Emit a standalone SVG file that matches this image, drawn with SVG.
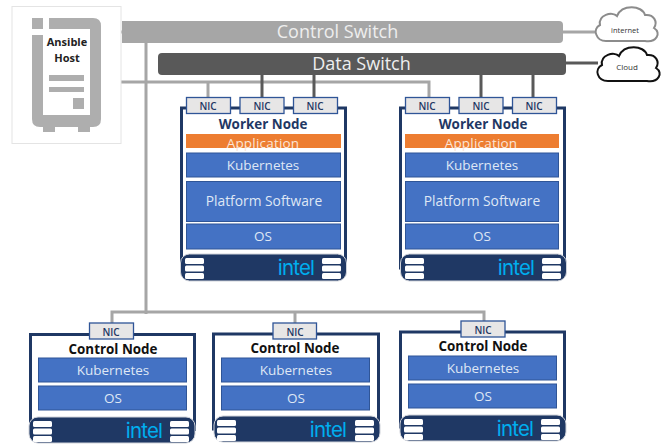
<svg xmlns="http://www.w3.org/2000/svg" width="672" height="446" viewBox="0 0 672 446">
<style>
text{font-family:"Open Sans","Noto Sans","DejaVu Sans",sans-serif;text-anchor:middle}
.frame{fill:#fff;stroke:#1f3864;stroke-width:3}
.nic{fill:#e7e6e6;stroke:#2f5597;stroke-width:1.3}
.nict{font-size:10px;fill:#1f3864;font-weight:600}
.blk{fill:#4472c4;stroke:#2f5597;stroke-width:1}
.blkt{font-size:13.500px;fill:#dfe7f5}
.plat{font-size:13.800px;fill:#dfe7f5}
.app{fill:#ed7d31}
.appt{font-size:13.500px;fill:#fbe5d6;letter-spacing:.2px}
.bar{fill:#1f3864;stroke:#d0d3da;stroke-width:1}
.title{font-size:13.400px;font-weight:700}
.intel{font-size:20.500px;fill:#00aeef;font-family:"Inter","Liberation Sans",sans-serif;letter-spacing:-.8px}
.g{fill:none;stroke:#a6a6a6;stroke-width:3}
.d{fill:none;stroke:#595959;stroke-width:3}
.ico{fill:#aeaeae}
.sw{fill:#fff}
</style>
<defs>
<g id="stack"><rect class="sw" x="0" y="-1" width="19" height="6" rx="1.5"/><rect class="sw" x="0" y="6.500" width="19" height="6" rx="1.5"/><rect class="sw" x="0" y="14" width="19" height="6" rx="1.5"/></g>
</defs>

<g id="connectors">
<path class="g" d="M101 32H122"/>
<path class="g" d="M101 82H429V97"/>
<path class="g" d="M146 43V314"/>
<path class="g" d="M208 82V97"/>
<path class="g" d="M112 323V312H484V321"/>
<path class="g" d="M295 312V323"/>
<path class="g" d="M563 32H596"/>
<path class="d" d="M262 75V97"/>
<path class="d" d="M314 75V97"/>
<path class="d" d="M481 75V97"/>
<path class="d" d="M533 75V97"/>
<path class="d" d="M566 63H598"/>
</g>

<g id="ansible-host">
<rect x="12" y="6.500" width="109" height="137" fill="#fff" stroke="#e4e4e4" stroke-width="1"/>
<rect class="ico" x="32" y="18" width="11" height="11"/>
<path class="ico" d="M49 18H93Q101 18 101 26V119Q101 127 93 127H40Q32 127 32 119V35H43V115H90V29H49Z"/>
<rect class="ico" x="43" y="127" width="12" height="5"/>
<rect class="ico" x="78" y="127" width="12" height="5"/>
<rect class="ico" x="49" y="75" width="35" height="6"/>
<rect class="ico" x="49" y="87" width="35" height="5"/>
<rect class="ico" x="73" y="98" width="11" height="11"/>
<text x="67" y="46" font-size="11" font-weight="700" fill="#222">Ansible</text>
<text x="67" y="61.500" font-size="11" font-weight="700" fill="#222">Host</text>
</g>

<g id="control-switch">
<path d="M122 21H559Q563 21 563 25V39Q563 43 559 43H122Z" fill="#a6a6a6"/>
<text x="337.500" y="38" font-size="18" fill="#eee">Control Switch</text>
</g>
<g id="data-switch">
<rect x="158" y="53" width="408" height="22" rx="4" fill="#595959"/>
<text x="361.500" y="70" font-size="18" fill="#eee">Data Switch</text>
</g>

<g id="internet">
<path d="M606 41C596 41 592 29 600 25C598 15 612 11 617 16C622 4 642 5 645 15C654 14 658 22 654 28C662 33 656 43 645 41Z" fill="#fff" stroke="#8c8c8c" stroke-width="2"/>
<text x="625" y="33" font-size="7.500" fill="#333">internet</text>
</g>
<g id="cloud">
<path d="M608 81C597 81 594 69 602 65C600 55 614 51 619 56C624 44 644 45 647 55C656 54 660 62 656 68C664 73 658 83 647 81Z" fill="#fff" stroke="#111" stroke-width="2"/>
<text x="627" y="70" font-size="8" fill="#333">Cloud</text>
</g>

<g id="worker-node-1">
<rect class="frame" x="181.500" y="108" width="164" height="160"/>
<rect class="nic" x="186.500" y="97.500" width="44" height="16"/><text class="nict" x="208" y="110">NIC</text>
<rect class="nic" x="240" y="97.500" width="44" height="16"/><text class="nict" x="262" y="110">NIC</text>
<rect class="nic" x="293.500" y="97.500" width="44" height="16"/><text class="nict" x="315" y="110">NIC</text>
<text class="title" x="263" y="129" fill="#1f3864">Worker Node</text>
<rect class="app" x="186" y="134" width="155" height="14"/><text class="appt" x="263" y="147.500">Application</text>
<rect class="blk" x="186.500" y="153" width="154" height="24"/><text class="blkt" x="263" y="170">Kubernetes</text>
<rect class="blk" x="186.500" y="181.500" width="154" height="40"/><text class="plat" x="264" y="206">Platform Software</text>
<rect class="blk" x="186.500" y="224" width="154" height="25"/><text class="blkt" x="263" y="241">OS</text>
<rect class="bar" x="180.500" y="254" width="166" height="27" rx="9"/>
<use href="#stack" x="185" y="259"/><use href="#stack" x="322" y="259"/>
<text class="intel" x="296" y="275">intel</text>
</g>

<g id="worker-node-2">
<rect class="frame" x="400.500" y="108" width="164" height="160"/>
<rect class="nic" x="405.500" y="97.500" width="44" height="16"/><text class="nict" x="427" y="110">NIC</text>
<rect class="nic" x="459" y="97.500" width="44" height="16"/><text class="nict" x="481" y="110">NIC</text>
<rect class="nic" x="512.500" y="97.500" width="44" height="16"/><text class="nict" x="534" y="110">NIC</text>
<text class="title" x="483" y="129" fill="#1f3864">Worker Node</text>
<rect class="app" x="405" y="134" width="154" height="14"/><text class="appt" x="481" y="147.500">Application</text>
<rect class="blk" x="405.500" y="153" width="153" height="24"/><text class="blkt" x="482" y="170">Kubernetes</text>
<rect class="blk" x="405.500" y="181.500" width="153" height="40"/><text class="plat" x="482" y="206">Platform Software</text>
<rect class="blk" x="405.500" y="224" width="153" height="25"/><text class="blkt" x="482" y="241">OS</text>
<rect class="bar" x="400.500" y="254" width="166" height="27" rx="9"/>
<use href="#stack" x="405" y="259"/><use href="#stack" x="542" y="259"/>
<text class="intel" x="516" y="275">intel</text>
</g>

<g id="control-node-1">
<rect class="frame" x="30.500" y="334.500" width="164" height="95"/>
<rect class="nic" x="89.500" y="323" width="44" height="16"/><text class="nict" x="111" y="335.500">NIC</text>
<text class="title" x="113" y="354" fill="#111">Control Node</text>
<rect class="blk" x="38.500" y="358" width="148" height="24"/><text class="blkt" x="113" y="375">Kubernetes</text>
<rect class="blk" x="38.500" y="386" width="148" height="24"/><text class="blkt" x="113" y="403">OS</text>
<rect class="bar" x="29" y="417" width="166" height="26" rx="9"/>
<use href="#stack" x="33" y="422"/><use href="#stack" x="170" y="422"/>
<text class="intel" x="144" y="438">intel</text>
</g>

<g id="control-node-2">
<rect class="frame" x="213.500" y="334" width="165" height="95"/>
<rect class="nic" x="273" y="323" width="43.500" height="16"/><text class="nict" x="295" y="335.500">NIC</text>
<text class="title" x="295" y="353" fill="#111">Control Node</text>
<rect class="blk" x="221.500" y="358" width="148" height="24"/><text class="blkt" x="296" y="375">Kubernetes</text>
<rect class="blk" x="221.500" y="386" width="148" height="24"/><text class="blkt" x="296" y="403">OS</text>
<rect class="bar" x="214" y="416" width="166" height="26" rx="9"/>
<use href="#stack" x="217" y="421"/><use href="#stack" x="355" y="421"/>
<text class="intel" x="328" y="437">intel</text>
</g>

<g id="control-node-3">
<rect class="frame" x="400.500" y="332" width="164" height="95"/>
<rect class="nic" x="461" y="321" width="44" height="16"/><text class="nict" x="483" y="333.500">NIC</text>
<text class="title" x="483" y="351" fill="#111">Control Node</text>
<rect class="blk" x="408.500" y="356" width="148" height="24"/><text class="blkt" x="483" y="373">Kubernetes</text>
<rect class="blk" x="408.500" y="384" width="148" height="24"/><text class="blkt" x="483" y="401">OS</text>
<rect class="bar" x="400" y="415" width="166" height="26" rx="9"/>
<use href="#stack" x="404" y="420"/><use href="#stack" x="541" y="420"/>
<text class="intel" x="515" y="436">intel</text>
</g>
</svg>
